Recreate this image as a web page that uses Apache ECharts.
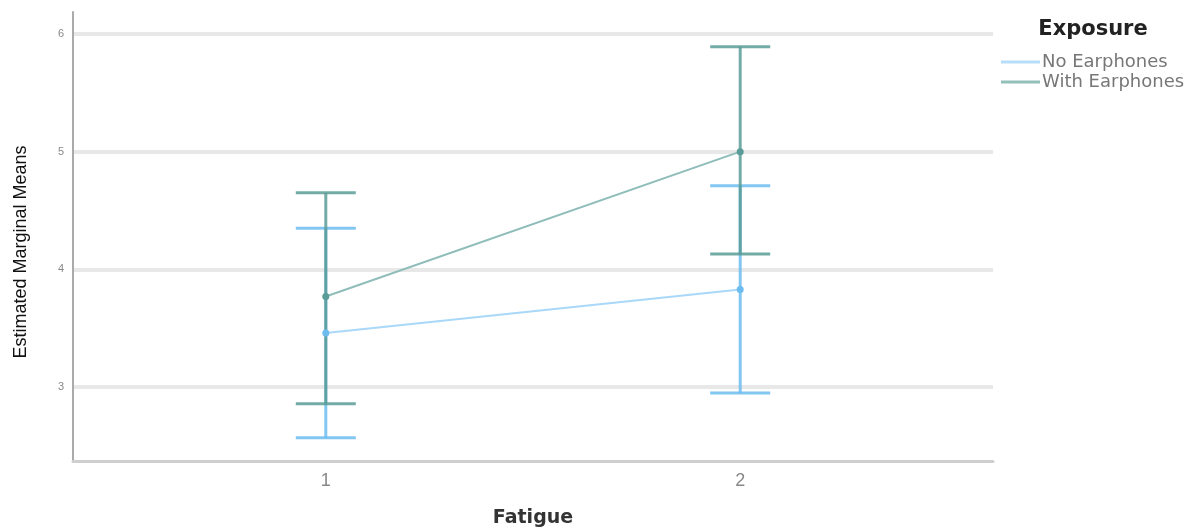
<!DOCTYPE html>
<html>
<head>
<meta charset="utf-8">
<script src="https://cdn.jsdelivr.net/npm/echarts@6/dist/echarts.min.js"></script>
<style>html,body{margin:0;padding:0;background:#fff}#c{width:1195px;height:530px}</style>
</head>
<body>
<div id="c"></div>
<script>
const categories = [1, 2];
const yTicks = [3, 4, 5, 6];
const noMeans = [3.46, 3.83];
const noLower = [2.57, 2.95];
const noUpper = [4.35, 4.71];
const withMeans = [3.77, 5.00];
const withLower = [2.86, 4.13];
const withUpper = [4.65, 5.89];

const blueDark = '#6cbcf0', blueLine = '#a9d8f8';
const tealDark = '#5a9c97', tealLine = '#8fbdb9';

function errSeries(name, lower, upper, color) {
  return {
    type: 'custom', name: name, z: 3,
    data: categories.map((c, i) => [c, lower[i], upper[i]]),
    renderItem: function (params, api) {
      const lo = api.coord([api.value(0), api.value(1)]);
      const hi = api.coord([api.value(0), api.value(2)]);
      const hw = 30;
      return {
        type: 'group',
        children: [
          {type: 'line', shape: {x1: lo[0], y1: lo[1], x2: hi[0], y2: hi[1]}, style: {stroke: color, lineWidth: 3, opacity: 0.85}},
          {type: 'line', shape: {x1: lo[0] - hw, y1: lo[1], x2: lo[0] + hw, y2: lo[1]}, style: {stroke: color, lineWidth: 3, opacity: 0.85}},
          {type: 'line', shape: {x1: hi[0] - hw, y1: hi[1], x2: hi[0] + hw, y2: hi[1]}, style: {stroke: color, lineWidth: 3, opacity: 0.85}}
        ]
      };
    }
  };
}

const chart = echarts.init(document.getElementById('c'));
chart.setOption({
  animation: false,
  textStyle: {fontFamily: 'Liberation Sans'},
  graphic: [
    {
      type: 'text', x: 1093, y: 30,
      style: {text: 'Exposure', fill: '#222', font: 'bold 21px "DejaVu Sans"', align: 'center', verticalAlign: 'middle'}
    },
    {
      type: 'text', x: 21, y: 252, rotation: Math.PI / 2,
      style: {text: 'Estimated Marginal Means', fill: '#111', font: '18px "Liberation Sans"', align: 'center', verticalAlign: 'middle'}
    }
  ],
  legend: {
    orient: 'vertical', left: 996, top: 48, itemGap: 2,
    itemWidth: 39, itemHeight: 3, icon: 'rect',
    textStyle: {fontSize: 18, lineHeight: 17, color: '#777', fontFamily: 'DejaVu Sans', padding: [0, 0, 0, -3]},
    data: [
      {name: 'No Earphones', itemStyle: {color: '#b8def9'}},
      {name: 'With Earphones', itemStyle: {color: '#94c0bc'}}
    ]
  },
  grid: {left: 73, right: 202, top: 12, bottom: 69, outerBoundsMode: 'none', containLabel: false},
  xAxis: {
    type: 'value', min: 0.39, max: 2.61,
    name: 'Fatigue', nameLocation: 'middle', nameGap: 48,
    nameTextStyle: {fontSize: 19, fontWeight: 'bold', color: '#333', fontFamily: 'DejaVu Sans'},
    axisLine: {show: true, onZero: false, lineStyle: {color: '#cfcfcf', width: 3}},
    axisTick: {show: false},
    splitLine: {show: false},
    axisLabel: {customValues: categories, fontSize: 18, color: '#888', margin: 11}
  },
  yAxis: {
    type: 'value', min: 2.373, max: 6.186,
    axisLine: {show: true, lineStyle: {color: '#aaaaaa', width: 2}},
    axisTick: {show: false, customValues: yTicks},
    splitLine: {show: true, lineStyle: {color: '#e8e8e8', width: 4}},
    axisLabel: {customValues: yTicks, fontSize: 11, color: '#888', margin: 9}
  },
  series: [
    errSeries('No Earphones', noLower, noUpper, blueDark),
    errSeries('With Earphones', withLower, withUpper, tealDark),
    {
      type: 'line', name: 'No Earphones', z: 4,
      data: categories.map((c, i) => [c, noMeans[i]]),
      symbol: 'circle', symbolSize: 7,
      lineStyle: {color: blueLine, width: 2},
      itemStyle: {color: blueDark}
    },
    {
      type: 'line', name: 'With Earphones', z: 4,
      data: categories.map((c, i) => [c, withMeans[i]]),
      symbol: 'circle', symbolSize: 7,
      lineStyle: {color: tealLine, width: 2},
      itemStyle: {color: tealDark}
    }
  ]
});
</script>
</body>
</html>
